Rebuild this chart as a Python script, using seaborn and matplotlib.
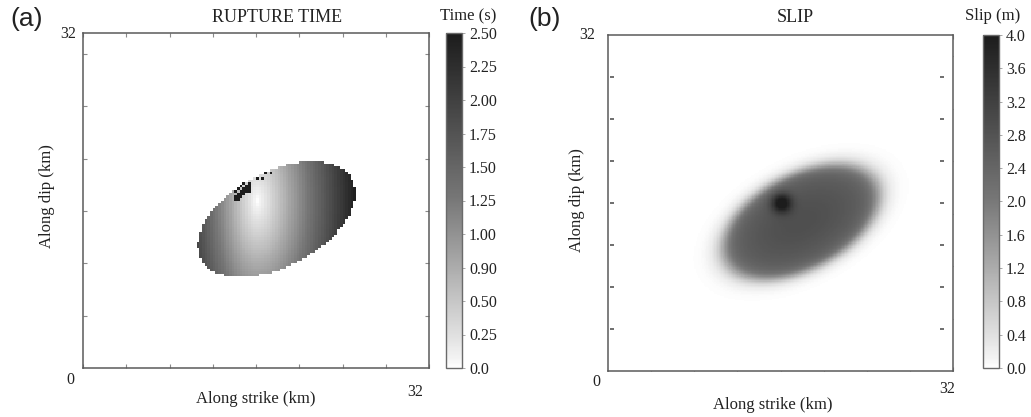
import numpy as np
import matplotlib
matplotlib.use("Agg")
import matplotlib.pyplot as plt
from matplotlib.colors import LinearSegmentedColormap
import seaborn as sns

# ---- fault plane and source description ----
fault_size_km = 32.0
n_cells_time = 128
n_cells_slip = 256

ellipse_center_km = [17.9, 14.2]      # along strike, along dip
ellipse_semi_axes_km = [7.95, 4.5]    # major, minor
ellipse_angle_deg = 29.0
hypocenter_km = [16.1, 16.0]
# apparent rupture speeds (km/s): towards -strike, towards +strike, along dip
rupture_speed_kms = [3.0, 3.7, 8.0]

base_slip_m = 2.3
central_slip_gain_m = 0.6
asperity_slip_m = 1.6
asperity_radius_km = 0.65
edge_width = 0.06
halo_slip_m = 0.06

late_band_strike_km = [13.9, 17.4]    # stalled cells on the upper rim
late_time_s = 2.5

time_ticks = [0.0, 0.25, 0.5, 0.75, 1.0, 1.25, 1.5, 1.75, 2.0, 2.25, 2.5]
time_tick_labels = ["0.0", "0.25", "0.50", "0.90", "1.00", "1.25",
                    "1.50", "1.75", "2.00", "2.25", "2.50"]
slip_ticks = [0.0, 0.4, 0.8, 1.2, 1.6, 2.0, 2.4, 2.8, 3.2, 3.6, 4.0]
slip_tick_labels = ["0.0", "0.4", "0.8", "1.2", "1.6", "2.0",
                    "2.4", "2.8", "3.2", "3.6", "4.0"]


def fault_grid(n):
    step = fault_size_km / n
    c = (np.arange(n) + 0.5) * step
    x, y = np.meshgrid(c, c)
    return x, y


def ellipse_coords(x, y):
    th = np.deg2rad(ellipse_angle_deg)
    dx = x - ellipse_center_km[0]
    dy = y - ellipse_center_km[1]
    u = dx * np.cos(th) + dy * np.sin(th)
    v = -dx * np.sin(th) + dy * np.cos(th)
    r = np.sqrt((u / ellipse_semi_axes_km[0]) ** 2 + (v / ellipse_semi_axes_km[1]) ** 2)
    return r, v


# rupture time field
xt, yt = fault_grid(n_cells_time)
rt, vt = ellipse_coords(xt, yt)
dx_h = xt - hypocenter_km[0]
v_strike = np.where(dx_h < 0, rupture_speed_kms[0], rupture_speed_kms[1])
rupture_time = np.sqrt((dx_h / v_strike) ** 2 +
                       ((yt - hypocenter_km[1]) / rupture_speed_kms[2]) ** 2)
ii, jj = np.indices(rt.shape)
late = ((rt > 0.80) & (rt <= 1.0) & (vt > 0) &
        (xt > late_band_strike_km[0]) & (xt < late_band_strike_km[1]))
late &= ((xt < 15.4) & ((ii * 7 + jj * 3) % 5 != 0)) | \
        ((xt >= 15.4) & (rt > 0.9) & ((ii + 2 * jj) % 4 == 0))
rupture_time[late] = late_time_s
rupture_time[rt > 1.0] = np.nan

# slip field
xs, ys = fault_grid(n_cells_slip)
rs, _ = ellipse_coords(xs, ys)
taper = 1.0 / (1.0 + np.exp((rs - 1.0) / edge_width))
slip = (base_slip_m + central_slip_gain_m * np.clip(1 - rs ** 2, 0, 1)) * taper
d2 = (xs - hypocenter_km[0]) ** 2 + (ys - hypocenter_km[1]) ** 2
slip += asperity_slip_m * np.exp(-d2 / (2 * asperity_radius_km ** 2)) * taper
slip += halo_slip_m * np.exp(-((rs - 1.0) / 0.28) ** 2) * (rs > 1.0)

# ---- figure ----
sns.set_style("white")
plt.rcParams["font.family"] = ["Liberation Serif", "DejaVu Serif"]

W, H = 1031, 417
fig = plt.figure(figsize=(W / 100, H / 100), dpi=100)


def fbox(x0, y0, x1, y1):
    return [x0 / W, 1 - y1 / H, (x1 - x0) / W, (y1 - y0) / H]


cmap = LinearSegmentedColormap.from_list(
    "greys_soft", [(0.0, "#ffffff"), (0.03, "#f2f2f2"), (0.5, "#787878"), (1.0, "#1c1c1c")])

spine_col = "#5a5a5a"
tick_col = "#8a8a8a"


def draw_panel(ax, cax, field, n, vmax, ticks, labels):
    sns.heatmap(np.flipud(field), ax=ax, cbar_ax=cax, cmap=cmap, vmin=0, vmax=vmax,
                xticklabels=False, yticklabels=False, linewidths=0,
                cbar_kws={"ticks": ticks})
    ax.set_facecolor("white")
    ax.set_xlim(0, n)
    ax.set_ylim(n, 0)
    for s in ax.spines.values():
        s.set_visible(True)
        s.set_color(spine_col)
        s.set_linewidth(1.1)
    cell = n / fault_size_km
    ax.set_xticks([k * cell for k in range(0, 33, 4)])
    ax.set_yticks([(fault_size_km - k) * cell for k in range(5, 32, 5)])
    ax.set_xticklabels([])
    ax.set_yticklabels([])
    ax.tick_params(direction="in", length=3, width=0.8, color=tick_col,
                   top=True, bottom=True, left=True, right=True)
    cb = ax.collections[0].colorbar
    cb.set_ticklabels(labels)
    cb.outline.set_visible(True)
    cb.outline.set_linewidth(1.0)
    cb.outline.set_edgecolor("#6a6a6a")
    cax.tick_params(length=2, width=0.6, color="#999999", labelsize=11.5, pad=3,
                    labelcolor="#222222")


ax_a = fig.add_axes(fbox(83, 33, 429, 368))
cax_a = fig.add_axes(fbox(446, 33, 462, 368))
draw_panel(ax_a, cax_a, rupture_time, n_cells_time, 2.5, time_ticks, time_tick_labels)

ax_b = fig.add_axes(fbox(608, 35, 953, 371))
cax_b = fig.add_axes(fbox(983, 35, 999, 368))
draw_panel(ax_b, cax_b, slip, n_cells_slip, 4.0, slip_ticks, slip_tick_labels)

# inner dip markers on the slip panel
cell_b = n_cells_slip / fault_size_km
dip_marks = [(fault_size_km - k) * cell_b for k in range(4, 29, 4)]
for strike_pos in (0.4, 31.0):
    ax_b.plot([strike_pos * cell_b] * len(dip_marks), dip_marks, ls="none", marker="_",
              ms=3, color="#555555", mew=1.2)

txt = dict(color="#222222", ha="center", va="center")


def ftext(x, y, s, size, **kw):
    d = dict(txt)
    d.update(kw)
    fig.text(x / W, 1 - y / H, s, fontsize=size, **d)


# panel (a) labels
ftext(27, 19, "(a)", 19, family=["Liberation Sans"])
ftext(277, 18, "RUPTURE TIME", 13)
ftext(468, 16, "Time (s)", 12)
ftext(68, 34, "32", 11.5)
ftext(70, 380, "0", 11.5)
ftext(415, 392, "32", 11.5)
ftext(256, 399, "Along strike (km)", 12)
ftext(47, 196, "Along dip (km)", 12, rotation=90)

# panel (b) labels
ftext(545, 19, "(b)", 19, family=["Liberation Sans"])
ftext(795, 18, "SLIP", 13)
ftext(993, 16, "Slip (m)", 12)
ftext(587, 35, "32", 11.5)
ftext(596, 382, "0", 11.5)
ftext(947, 389, "32", 11.5)
ftext(773, 405, "Along strike (km)", 12)
ftext(577, 200, "Along dip (km)", 12, rotation=90)

fig.savefig("out.png", dpi=100, facecolor="white")
